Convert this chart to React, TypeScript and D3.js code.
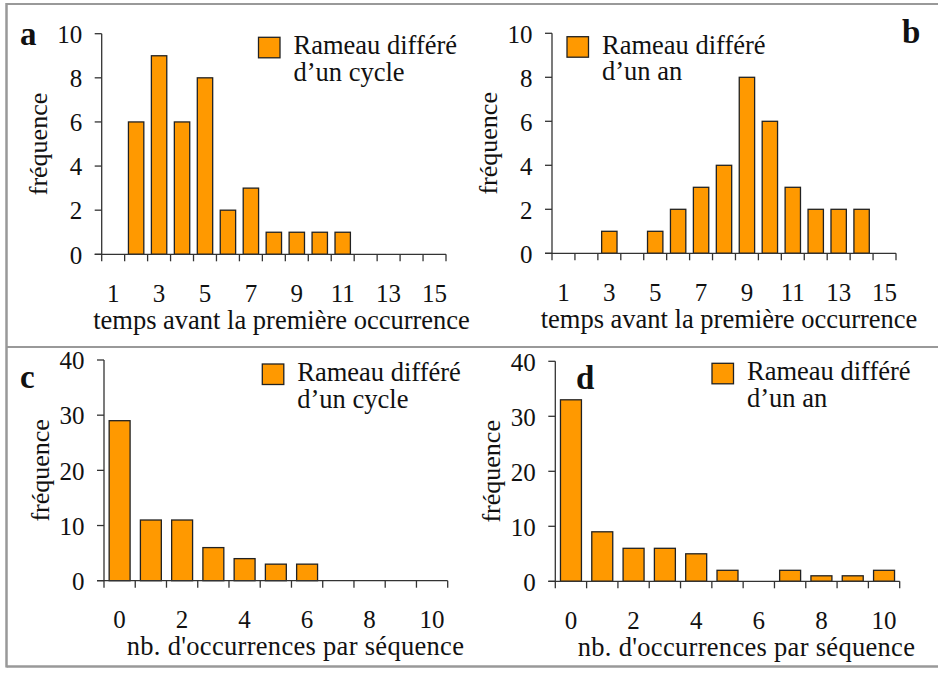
import React from "react";
import * as d3 from "d3";

const timeCategories = [1, 2, 3, 4, 5, 6, 7, 8, 9, 10, 11, 12, 13, 14, 15];
const timeTickLabels = [1, 3, 5, 7, 9, 11, 13, 15];
const timeYTicks = [0, 2, 4, 6, 8, 10];
const cycleTimeValues = [0, 6, 9, 6, 8, 2, 3, 1, 1, 1, 1, 0, 0, 0, 0];
const yearTimeValues = [0, 0, 1, 0, 1, 2, 3, 4, 8, 6, 3, 2, 2, 2, 0];

const countCategories = [0, 1, 2, 3, 4, 5, 6, 7, 8, 9, 10];
const countTickLabels = [0, 2, 4, 6, 8, 10];
const countYTicks = [0, 10, 20, 30, 40];
const cycleCountValues = [29, 11, 11, 6, 4, 3, 3, 0, 0, 0, 0];
const yearCountValues = [33, 9, 6, 6, 5, 2, 0, 2, 1, 1, 2];

const legendCycle = ["Rameau différé", "d’un cycle"];
const legendYear = ["Rameau différé", "d’un an"];
const timeTitle = "temps avant la première occurrence";
const countTitle = "nb. d'occurrences par séquence";
const yTitle = "fréquence";

const FILL = "#FF9900";
const INK = "#111";
const tx = (size: number, extra: any = {}) => ({ fontFamily: "Liberation Serif", fontSize: size + "px", fill: INK, ...extra });

type PanelProps = {
  x0: number; x1: number; yTop: number; yZero: number;
  cats: number[]; values: number[]; yMax: number; yTicks: number[];
  xLabels: number[]; xTitle: string; titleCx: number; titleSpacing: number;
  legend: string[]; legendX: number; legendY: number;
  letter: string; letterX: number; letterY: number;
};

function Panel(p: PanelProps) {
  const x = d3.scaleBand<number>().domain(p.cats).range([p.x0, p.x1]).paddingInner(0.33).paddingOuter(0.165);
  const y = d3.scaleLinear().domain([0, p.yMax]).range([p.yZero, p.yTop]);
  const step = x.step();
  const boundaries = d3.range(p.cats.length + 1).map((i) => p.x0 + i * step);
  return (
    <g>
      {p.cats.map((c, i) =>
        p.values[i] > 0 ? (
          <rect key={c} x={x(c)} y={y(p.values[i])} width={x.bandwidth()} height={p.yZero - y(p.values[i])}
            fill={FILL} stroke="#222" strokeWidth={1.3} />
        ) : null
      )}
      <line x1={p.x0} x2={p.x0} y1={p.yTop} y2={p.yZero} stroke="#333" strokeWidth={1.3} />
      <line x1={p.x0 - 7} x2={p.x1} y1={p.yZero} y2={p.yZero} stroke="#333" strokeWidth={1.3} />
      {p.yTicks.map((t) => (
        <g key={t}>
          <line x1={p.x0 - 7} x2={p.x0} y1={y(t)} y2={y(t)} stroke="#333" strokeWidth={1.3} />
          <text x={p.x0 - 19.5} y={y(t) + 9.3} textAnchor="end" style={tx(25)}>{t}</text>
        </g>
      ))}
      {boundaries.map((b, i) => (
        <line key={i} x1={b} x2={b} y1={p.yZero} y2={p.yZero + 7} stroke="#333" strokeWidth={1.3} />
      ))}
      {p.xLabels.map((l) => (
        <text key={l} x={(x(l) as number) + x.bandwidth() / 2} y={p.yZero + 47.5} textAnchor="middle" style={tx(25)}>{l}</text>
      ))}
      <text x={p.titleCx} y={p.yZero + 74.5} textAnchor="middle" style={tx(26.5, { letterSpacing: p.titleSpacing + "px" })}>{p.xTitle}</text>
      <text transform={`translate(${p.x0 - 55},${(p.yTop + p.yZero) / 2}) rotate(-90)`} textAnchor="middle" style={tx(26)}>{yTitle}</text>
      <rect x={p.legendX} y={p.legendY} width={21.5} height={20.5} fill={FILL} stroke="#222" strokeWidth={1.3} />
      <text x={p.legendX + 35} y={p.legendY + 17} style={tx(26.5)}>
        {p.legend.map((s, i) => (
          <tspan key={i} x={p.legendX + 35} dy={i === 0 ? 0 : 26.7}>{s}</tspan>
        ))}
      </text>
      <text x={p.letterX} y={p.letterY} style={tx(33, { fontWeight: "bold" })}>{p.letter}</text>
    </g>
  );
}

export default function App() {
  return (
    <svg width={938} height={675} style={{ position: "absolute", left: 0, top: 0, background: "#fff", fontFamily: "Liberation Serif" }}>
      <rect x={0} y={0} width={938} height={675} fill="#fff" />
      <line x1={6.5} x2={938} y1={4} y2={4} stroke="#999" strokeWidth={2} />
      <line x1={6.5} x2={938} y1={347} y2={347} stroke="#999" strokeWidth={2} />
      <line x1={6.5} x2={938} y1={666.5} y2={666.5} stroke="#999" strokeWidth={2.5} />
      <line x1={6.5} x2={6.5} y1={3} y2={667.5} stroke="#999" strokeWidth={2.5} />
      <Panel x0={101.7} x1={446} yTop={33.7} yZero={254.3} cats={timeCategories} values={cycleTimeValues}
        yMax={10} yTicks={timeYTicks} xLabels={timeTickLabels} xTitle={timeTitle} titleCx={281.5} titleSpacing={0}
        legend={legendCycle} legendX={258.5} legendY={37.3} letter="a" letterX={20} letterY={45} />
      <Panel x0={552} x1={896} yTop={33.3} yZero={253.3} cats={timeCategories} values={yearTimeValues}
        yMax={10} yTicks={timeYTicks} xLabels={timeTickLabels} xTitle={timeTitle} titleCx={729} titleSpacing={0}
        legend={legendYear} legendX={567} legendY={36.7} letter="b" letterX={902} letterY={43} />
      <Panel x0={104} x1={447.7} yTop={360} yZero={580.7} cats={countCategories} values={cycleCountValues}
        yMax={40} yTicks={countYTicks} xLabels={countTickLabels} xTitle={countTitle} titleCx={295.5} titleSpacing={0.3}
        legend={legendCycle} legendX={262.3} legendY={364} letter="c" letterX={20} letterY={388} />
      <Panel x0={555.3} x1={899.7} yTop={361.3} yZero={581.3} cats={countCategories} values={yearCountValues}
        yMax={40} yTicks={countYTicks} xLabels={countTickLabels} xTitle={countTitle} titleCx={746.5} titleSpacing={0.3}
        legend={legendYear} legendX={712} legendY={363.3} letter="d" letterX={576} letterY={389} />
    </svg>
  );
}
